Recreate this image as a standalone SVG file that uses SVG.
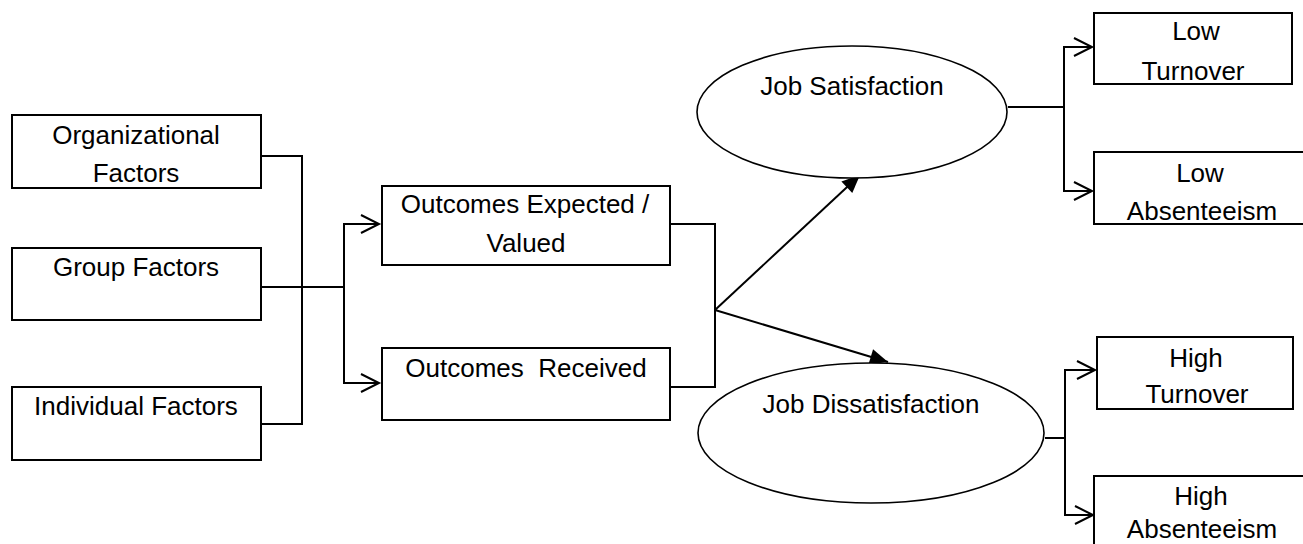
<svg xmlns="http://www.w3.org/2000/svg" width="1303" height="544" viewBox="0 0 1303 544">
<style>
.box{fill:#fff;stroke:#000;stroke-width:2}
.ell{fill:#fff;stroke:#000;stroke-width:1.6}
.ln{fill:none;stroke:#000;stroke-width:2}
text{font-family:"Liberation Sans",Arial,sans-serif;font-size:26px;fill:#000;text-anchor:middle}
</style>
<defs>
<marker id="open" markerWidth="24" markerHeight="24" viewBox="-21 -12 24 24" refX="0" refY="0" orient="auto-start-reverse" markerUnits="userSpaceOnUse">
<path d="M-18,-9 L0,0 L-18,9" fill="none" stroke="#000" stroke-width="2"/>
</marker>
<marker id="solid" markerWidth="24" markerHeight="20" viewBox="-20 -10 22 20" refX="0" refY="0" orient="auto" markerUnits="userSpaceOnUse">
<path d="M-18,-8 L0,0 L-18,8 Z" fill="#000"/>
</marker>
</defs>
<g id="connectors">
<polyline class="ln" points="261,156 302,156 302,424 261,424"/>
<line class="ln" x1="261" y1="287" x2="344" y2="287"/>
<polyline class="ln" points="379,224 344,224 344,383 379,383" marker-start="url(#open)" marker-end="url(#open)"/>
<polyline class="ln" points="670,224 715,224 715,387 670,387"/>
<line class="ln" x1="715" y1="310" x2="860" y2="175" marker-end="url(#solid)"/>
<line class="ln" x1="715" y1="310" x2="888" y2="362" marker-end="url(#solid)"/>
<line class="ln" x1="1008" y1="107" x2="1064" y2="107"/>
<polyline class="ln" points="1092,47 1064,47 1064,191 1092,191" marker-start="url(#open)" marker-end="url(#open)"/>
<line class="ln" x1="1045" y1="438" x2="1065" y2="438"/>
<polyline class="ln" points="1095,370 1065,370 1065,515 1093,515" marker-start="url(#open)" marker-end="url(#open)"/>
</g>
<g id="org"><rect class="box" x="12" y="115" width="249" height="73"/><text x="136" y="144">Organizational</text><text x="136" y="182">Factors</text></g>
<g id="group"><rect class="box" x="12" y="248" width="249" height="72"/><text x="136" y="276">Group Factors</text></g>
<g id="individual"><rect class="box" x="12" y="387" width="249" height="73"/><text x="136" y="415">Individual Factors</text></g>
<g id="expected"><rect class="box" x="382" y="186" width="288" height="79"/><text x="525" y="213">Outcomes Expected /</text><text x="526" y="252">Valued</text></g>
<g id="received"><rect class="box" x="382" y="348" width="288" height="72"/><text x="526" y="377" xml:space="preserve">Outcomes  Received</text></g>
<g id="satisfaction"><ellipse class="ell" cx="852" cy="112" rx="155" ry="66"/><text x="852" y="95">Job Satisfaction</text></g>
<g id="dissatisfaction"><ellipse class="ell" cx="871" cy="433" rx="173" ry="70"/><text x="871" y="413">Job Dissatisfaction</text></g>
<g id="lowturnover"><rect class="box" x="1094" y="13" width="198" height="71"/><text x="1196" y="40">Low</text><text x="1193" y="80">Turnover</text></g>
<g id="lowabsent"><rect class="box" x="1094" y="152" width="212" height="72"/><text x="1200" y="182">Low</text><text x="1202" y="220">Absenteeism</text></g>
<g id="highturnover"><rect class="box" x="1097" y="337" width="196" height="72"/><text x="1196" y="367">High</text><text x="1197" y="403">Turnover</text></g>
<g id="highabsent"><rect class="box" x="1094" y="476" width="212" height="80"/><text x="1201" y="505">High</text><text x="1202" y="538">Absenteeism</text></g>
</svg>
